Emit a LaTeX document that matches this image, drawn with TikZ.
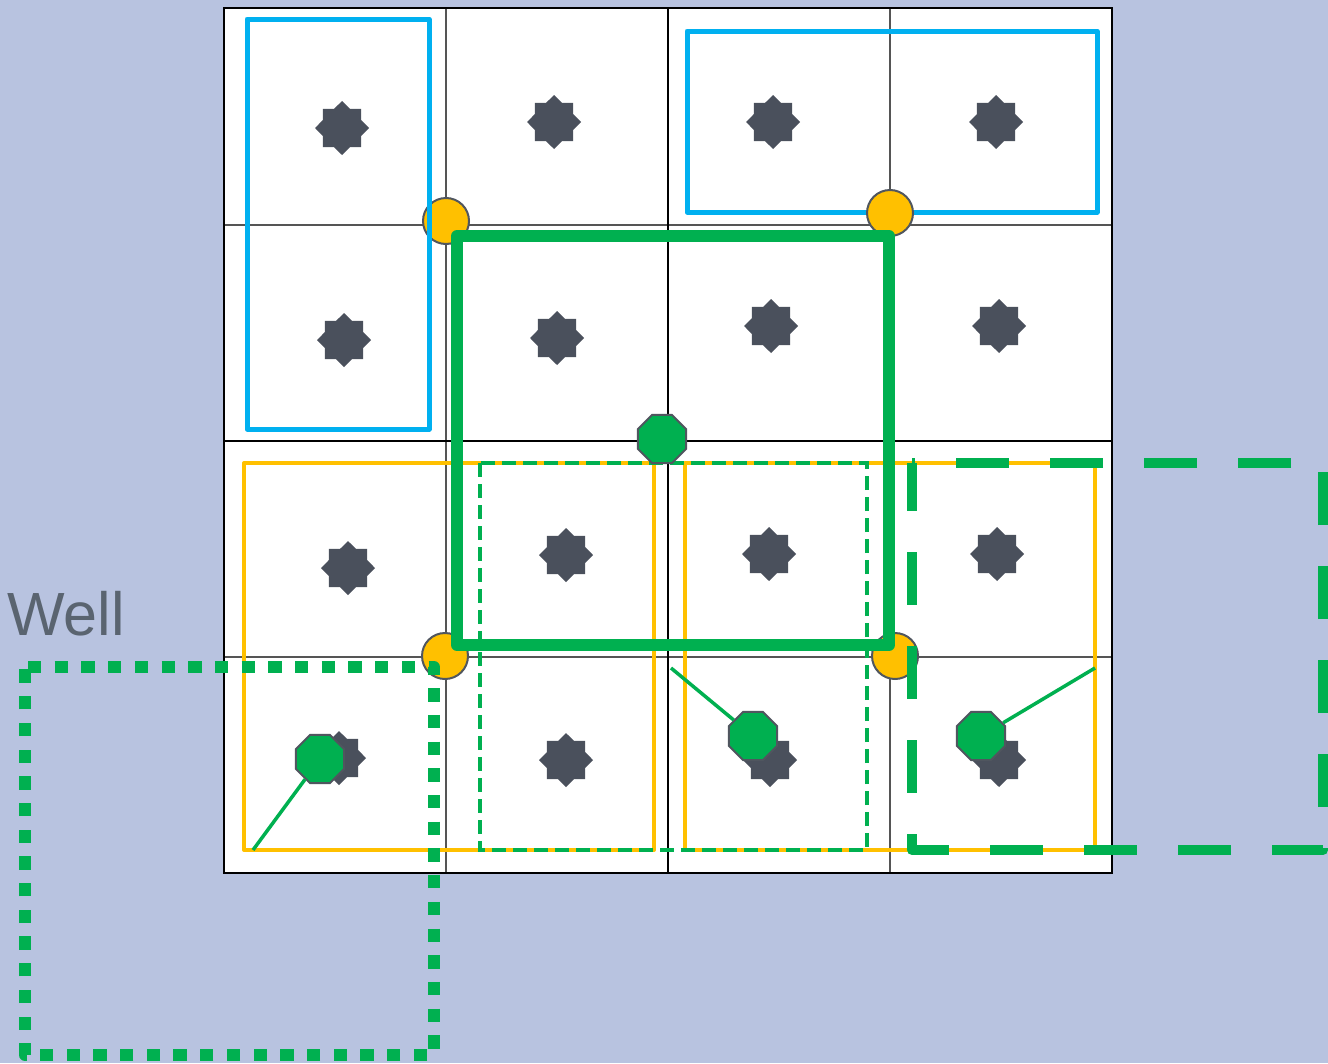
\documentclass[tikz,border=0pt]{standalone}
\usepackage{fontspec}
\setmainfont{Liberation Sans}
\usetikzlibrary{shapes.geometric}
\definecolor{bgc}{HTML}{B8C3E0}
\definecolor{grn}{HTML}{00B050}
\definecolor{ylw}{HTML}{FFC000}
\definecolor{blu}{HTML}{00B0F0}
\definecolor{stc}{HTML}{4A505C}
\definecolor{olc}{HTML}{50565F}
\definecolor{txc}{HTML}{5A6470}
\definecolor{thinc}{HTML}{555555}
\tikzset{
  star8/.style={star, star points=8, star point ratio=1.306, minimum size=54pt, inner sep=0pt, outer sep=0pt, fill=stc, draw=none},
  octo/.style={regular polygon, regular polygon sides=8, minimum size=52pt, inner sep=0pt, fill=grn, draw=olc, line width=2pt},
  ydot/.style={circle, minimum size=46pt, inner sep=0pt, fill=ylw, draw=olc, line width=2pt},
  thinline/.style={thinc, line width=2pt},
  thickline/.style={black, line width=2.5pt},
  bluebox/.style={blu, line width=5pt, line join=round},
  yellowbox/.style={ylw, line width=4pt, line join=round},
  greenthick/.style={grn, line width=12pt, line join=round},
  greensmalldash/.style={grn, line width=4pt, dash pattern=on 14pt off 7pt},
  greenbigdash/.style={grn, line width=10pt, line join=round, dash pattern=on 53pt off 41pt, dash phase=5pt},
  greendots/.style={grn, line width=12pt, line join=round, dash pattern=on 13.3pt off 13.4pt, dash phase=23.7pt},
  greenlink/.style={grn, line width=3.5pt},
}
\begin{document}
\begin{tikzpicture}[x=1pt,y=-1pt]
\useasboundingbox (0,0) rectangle (1328,1063);
\fill[bgc] (0,0) rectangle (1328,1063);
\fill[white] (224,8) rectangle (1112,873);
% thin grid lines
\draw[thinline] (446,8) -- (446,873);
\draw[thinline] (890,8) -- (890,873);
\draw[thinline] (224,225) -- (1112,225);
\draw[thinline] (224,657) -- (1112,657);
% thick grid lines
\draw[thickline] (668,8) -- (668,873);
\draw[thickline] (224,441) -- (1112,441);
\draw[thickline] (224,8) rectangle (1112,873);
% stars
\node[star8] (s11) at (342,128) {};
\node[star8] (s12) at (554,122) {};
\node[star8] (s13) at (773,122) {};
\node[star8] (s14) at (996,122) {};
\node[star8] (s21) at (344,340) {};
\node[star8] (s22) at (557,338) {};
\node[star8] (s23) at (771,326) {};
\node[star8] (s24) at (999,326) {};
\node[star8] (s31) at (348,568) {};
\node[star8] (s32) at (566,555) {};
\node[star8] (s33) at (769,554) {};
\node[star8] (s34) at (997,554) {};
\node[star8] (s41) at (339,758) {};
\node[star8] (s42) at (566,760) {};
\node[star8] (s43) at (770,760) {};
\node[star8] (s44) at (999,760) {};
% blue box (top right)
\draw[bluebox] (687,31) rectangle (1097,212);
% yellow boxes
\draw[yellowbox] (244,463) rectangle (654,850);
\draw[yellowbox] (685,463) rectangle (1095,850);
% small dashed green box
\draw[greensmalldash] (480,463) rectangle (867,850);
% yellow dots
\node[ydot] (y1) at (446,221) {};
\node[ydot] (y2) at (890,213) {};
\node[ydot] (y3) at (445,656) {};
\node[ydot] (y4) at (895,656) {};
% blue box (left)
\draw[bluebox] (247,19) rectangle (429,429);
% thick green box
\draw[greenthick] (457,236) rectangle (889,645);
% big dashed green box
\draw[greenbigdash] (912,463) -- (912,850) -- (1323,850) -- (1323,463) -- cycle;
% dotted green box
\draw[greendots] (25,667) -- (434,667) -- (434,1055) -- (25,1055) -- cycle;
% label
\node[anchor=base west, inner sep=0pt, text=txc, font=\fontsize{61}{61}\selectfont] (well) at (7,635) {Well};
% octagons
\node[octo] (o1) at (662,439) {};
\node[octo] (o2) at (320,759) {};
\node[octo] (o3) at (753,736) {};
\node[octo] (o4) at (981,736) {};
% link end points
\coordinate (c2) at (253,850);
\coordinate (c3) at (671,668);
\coordinate (c4) at (1095,668);
\draw[greenlink] (o2) -- (c2);
\draw[greenlink] (o3) -- (c3);
\draw[greenlink] (o4) -- (c4);
\end{tikzpicture}
\end{document}
